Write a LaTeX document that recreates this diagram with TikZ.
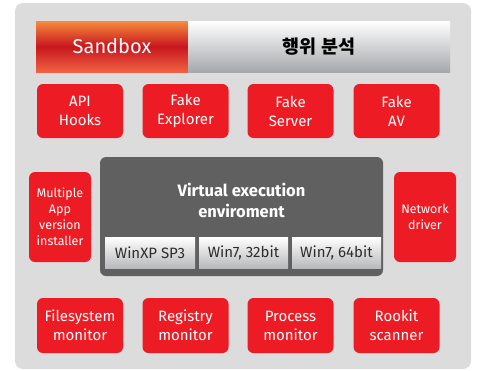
\documentclass[tikz,border=0pt]{standalone}
\usepackage{fontspec}
\setmainfont{Fira Sans}
\newfontfamily\krfont{Noto Sans CJK KR}
\usepackage{tikz}
\usetikzlibrary{positioning}
\definecolor{boxRed}{RGB}{237,28,36}
\definecolor{panelGray}{RGB}{220,220,220}
\definecolor{vmGray}{RGB}{96,96,96}
\definecolor{sbTop}{RGB}{246,140,60}
\definecolor{sbMid}{RGB}{200,22,30}
\definecolor{sbBot}{RGB}{240,98,66}
\definecolor{barBot}{RGB}{166,168,171}
\definecolor{osText}{RGB}{45,45,45}
\tikzset{
  redbox/.style={fill=boxRed, rounded corners=6pt, text=white, align=center,
                 minimum width=86pt, minimum height=54pt, inner sep=0pt,
                 font=\fontsize{15}{19}\selectfont},
  sidebox/.style={redbox, minimum width=62pt, minimum height=90pt,
                  font=\fontsize{12.5}{16}\selectfont},
  osbox/.style={top color=white, bottom color=barBot!80, minimum height=31pt,
                inner sep=0pt, text=osText, font=\fontsize{15}{16}\selectfont},
}

\begin{document}
\begin{tikzpicture}[x=1pt, y=-1pt]
  \useasboundingbox (0,0) rectangle (478,370);
  % ----- panel -----
  \fill[panelGray, rounded corners=8pt] (15,3) rectangle (471,369);

  % ----- header bar -----
  \shade[top color=sbTop, bottom color=sbBot, middle color=sbMid] (36,21) rectangle (188,72);
  \shade[top color=white, bottom color=barBot] (188,21) rectangle (450,72);
  \node[text=white, font=\fontsize{20}{22}\selectfont] (sandbox) at (112,46.5) {Sandbox};
  \node[font=\krfont\bfseries\fontsize{18.5}{20}\selectfont] (behavior) at (319,46.5) {행위 분석};

  % ----- top row -----
  \node[redbox] (api)      at (80,111)    {API\\Hooks};
  \node[redbox] (explorer) at (185.5,111) {Fake\\Explorer};
  \node[redbox] (server)   at (290.5,111) {Fake\\Server};
  \node[redbox] (av)       at (396.5,111) {Fake\\AV};

  % ----- middle row -----
  \node[sidebox] (installer) at (60,217)  {Multiple\\App\\version\\installer};
  \node[sidebox] (netdrv)    at (425,217) {Network\\driver};
  \node[fill=vmGray, rounded corners=6pt, minimum width=283pt, minimum height=119pt,
        inner sep=0pt] (vm) at (241.5,216.5) {};
  \node[text=white, align=center, font=\fontsize{16.5}{21}\selectfont\bfseries]
        (vmlabel) at (241.5,200) {Virtual execution\\enviroment};
  \node[osbox, minimum width=90pt] (winxp)  at (150,252.5)   {WinXP SP3};
  \node[osbox, minimum width=89pt] (win32)  at (243.5,252.5) {Win7, 32bit};
  \node[osbox, minimum width=89pt] (win64)  at (336.5,252.5) {Win7, 64bit};

  % ----- bottom row -----
  \node[redbox, minimum height=55pt] (filesys)  at (80,325.5)    {Filesystem\\monitor};
  \node[redbox, minimum height=55pt] (registry) at (185.5,325.5) {Registry\\monitor};
  \node[redbox, minimum height=55pt] (process)  at (290.5,325.5) {Process\\monitor};
  \node[redbox, minimum height=55pt] (rootkit)  at (396.5,325.5) {Rookit\\scanner};
\end{tikzpicture}
\end{document}
